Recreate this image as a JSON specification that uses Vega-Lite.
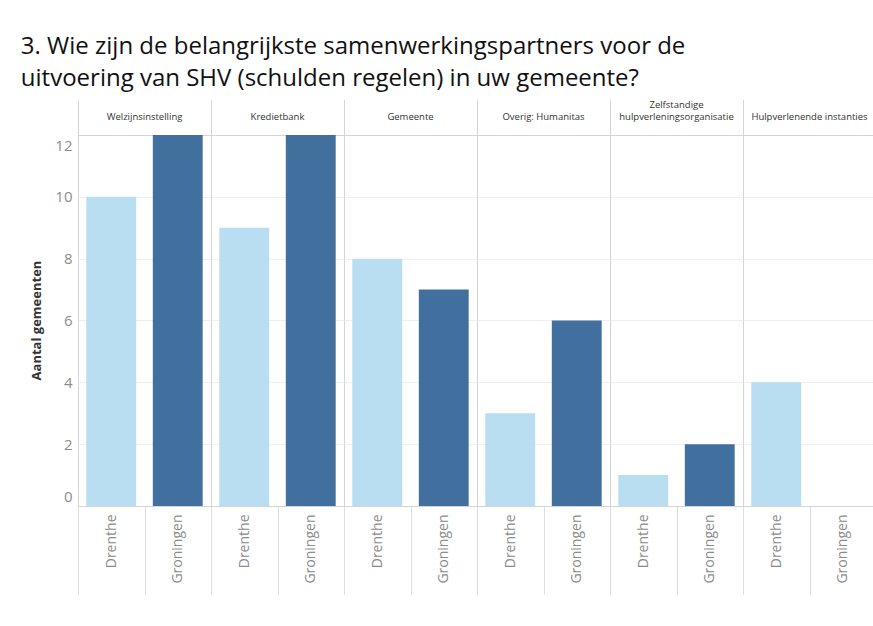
{
  "$schema": "https://vega.github.io/schema/vega-lite/v6.json",
  "padding": {"left": 20, "top": 34, "right": 0, "bottom": 0},
  "autosize": {"type": "pad"},
  "bounds": "flush",
  "background": "white",
  "title": {
    "text": ["3. Wie zijn de belangrijkste samenwerkingspartners voor de", "uitvoering van SHV (schulden regelen) in uw gemeente?"],
    "anchor": "start",
    "frame": "bounds",
    "font": "Open Sans",
    "fontSize": 24,
    "fontWeight": "normal",
    "color": "#111111",
    "lineHeight": 32,
    "offset": 9,
    "dx": -10
  },
  "data": {
    "values": [
      {"partner": "Welzijnsinstelling", "provincie": "Drenthe", "aantal": 10},
      {"partner": "Welzijnsinstelling", "provincie": "Groningen", "aantal": 12},
      {"partner": "Kredietbank", "provincie": "Drenthe", "aantal": 9},
      {"partner": "Kredietbank", "provincie": "Groningen", "aantal": 12},
      {"partner": "Gemeente", "provincie": "Drenthe", "aantal": 8},
      {"partner": "Gemeente", "provincie": "Groningen", "aantal": 7},
      {"partner": "Overig: Humanitas", "provincie": "Drenthe", "aantal": 3},
      {"partner": "Overig: Humanitas", "provincie": "Groningen", "aantal": 6},
      {"partner": "Zelfstandige hulpverleningsorganisatie", "provincie": "Drenthe", "aantal": 1},
      {"partner": "Zelfstandige hulpverleningsorganisatie", "provincie": "Groningen", "aantal": 2},
      {"partner": "Hulpverlenende instanties", "provincie": "Drenthe", "aantal": 4}
    ]
  },
  "facet": {
    "column": {
      "field": "partner",
      "type": "nominal",
      "sort": ["Welzijnsinstelling", "Kredietbank", "Gemeente", "Overig: Humanitas", "Zelfstandige hulpverleningsorganisatie", "Hulpverlenende instanties"],
      "header": {
        "title": null,
        "labelFont": "Open Sans",
        "labelFontSize": 9.5,
        "labelColor": "#333333",
        "labelPadding": -31,
        "labelBaseline": "bottom",
        "labelExpr": "datum.value == 'Zelfstandige hulpverleningsorganisatie' ? ['Zelfstandige', 'hulpverleningsorganisatie'] : datum.value"
      }
    }
  },
  "spacing": 0,
  "spec": {
    "width": 133,
    "height": 406,
    "mark": {"type": "bar", "width": {"band": 0.75}},
    "encoding": {
      "x": {
        "field": "provincie",
        "type": "nominal",
        "scale": {"paddingInner": 0, "paddingOuter": 0},
        "axis": {
          "title": null,
          "labelAngle": 270,
          "labelAlign": "right",
          "labelBaseline": "middle",
          "labelFont": "Open Sans",
          "labelFontSize": 14,
          "labelColor": "#8c8c8c",
          "labelPadding": -80,
          "domain": false,
          "ticks": true,
          "tickBand": "extent",
          "tickSize": 88,
          "tickColor": "#dedede",
          "grid": false
        }
      },
      "y": {
        "field": "aantal",
        "type": "quantitative",
        "scale": {"domain": [0, 13.13], "nice": false, "zero": true},
        "axis": {
          "title": "Aantal gemeenten",
          "titleFont": "Open Sans",
          "titleFontSize": 13,
          "titleFontWeight": "bold",
          "titleColor": "#333333",
          "titlePadding": 11,
          "titleY": 220,
          "values": [0, 2, 4, 6, 8, 10, 12],
          "labelFont": "Open Sans",
          "labelFontSize": 15,
          "labelColor": "#8c8c8c",
          "labelPadding": 6,
          "labelBaseline": {"condition": {"test": "datum.value == 12", "value": "top"}, "value": "middle"},
          "labelFlush": false,
          "labelOffset": {"condition": [{"test": "datum.value == 0", "value": -10}, {"test": "datum.value == 12", "value": 4}], "value": 0},
          "domain": false,
          "ticks": false,
          "grid": true,
          "gridColor": {"condition": {"test": "datum.value == 0 || datum.value == 12", "value": "#d4d4d4"}, "value": "#efefef"}
        }
      },
      "color": {
        "field": "provincie",
        "type": "nominal",
        "scale": {"domain": ["Drenthe", "Groningen"], "range": ["#b9ddf1", "#41709f"]},
        "legend": null
      }
    }
  },
  "config": {
    "view": {"stroke": "#d4d4d4", "strokeDash": [0, 133, 945]},
    "facet": {"spacing": 0}
  }
}
